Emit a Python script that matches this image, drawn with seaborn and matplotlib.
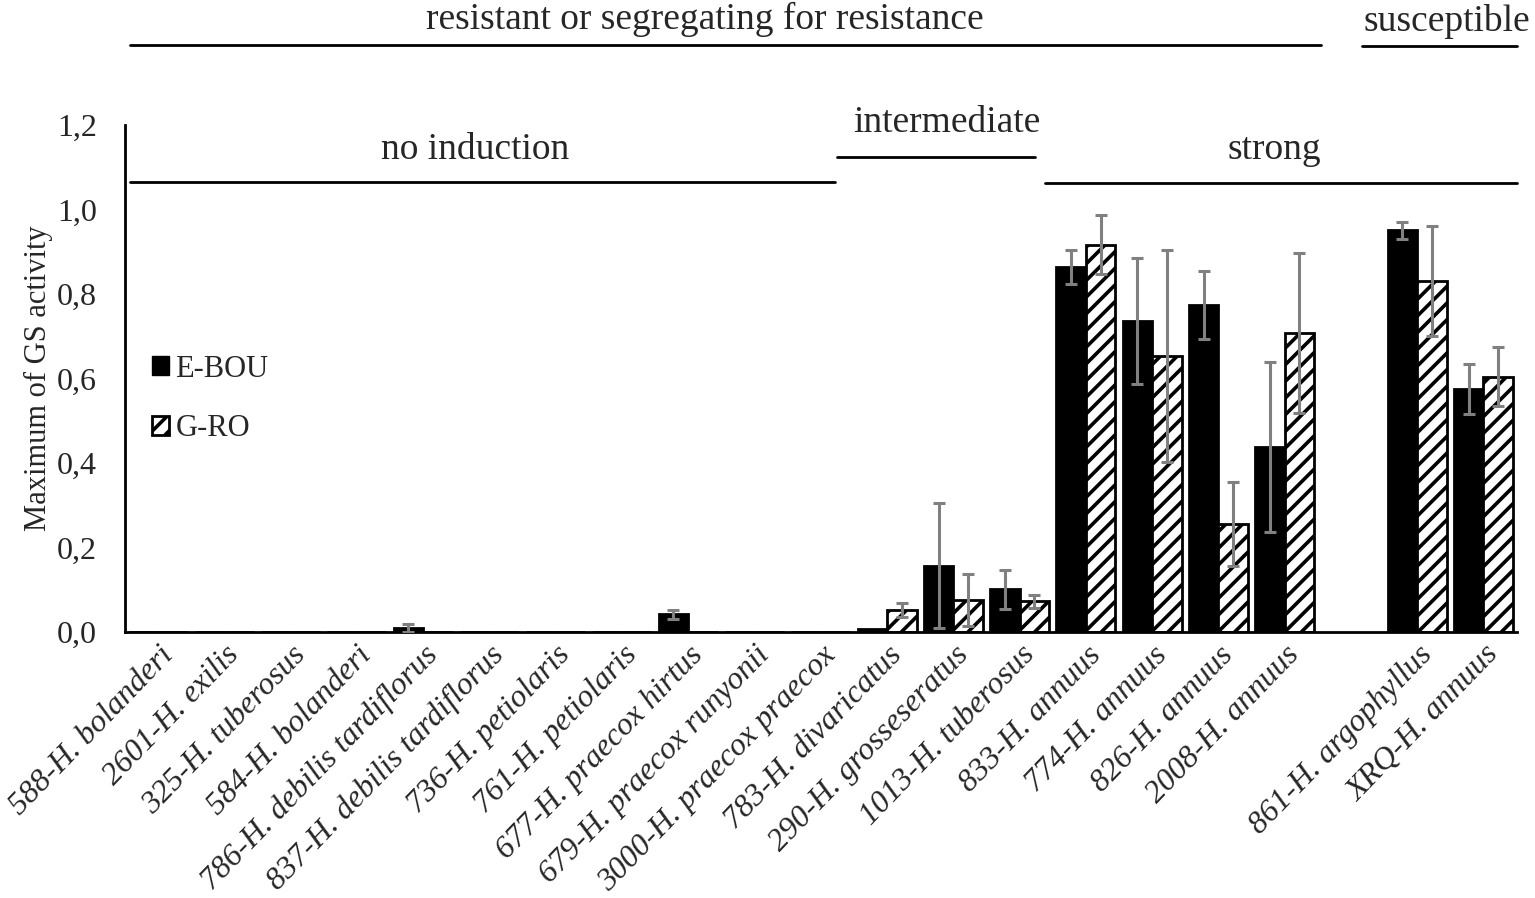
import numpy as np
import pandas as pd
import matplotlib
matplotlib.use("Agg")
import matplotlib.pyplot as plt
import seaborn as sns
from matplotlib.ticker import FuncFormatter
from matplotlib.patches import Patch

# ---- data ----
categories = ["588-H. bolanderi", "2601-H. exilis", "325-H. tuberosus", "584-H. bolanderi",
              "786-H. debilis tardiflorus", "837-H. debilis tardiflorus", "736-H. petiolaris",
              "761-H. petiolaris", "677-H. praecox hirtus", "679-H. praecox runyonii",
              "3000-H. praecox praecox", "783-H. divaricatus", "290-H. grosseseratus",
              "1013-H. tuberosus", "833-H. annuus", "774-H. annuus", "826-H. annuus",
              "2008-H. annuus", "861-H. argophyllus", "XRQ-H. annuus"]
ebou = [0, 0, 0, 0, 0.01, 0, 0, 0, 0.042, 0, 0,
        0.008, 0.157, 0.101, 0.864, 0.736, 0.774, 0.438, 0.951, 0.575]
ebou_err = [0, 0, 0, 0, 0.009, 0, 0, 0, 0.01, 0, 0,
            0, 0.148, 0.047, 0.04, 0.15, 0.08, 0.2, 0.02, 0.06]
gro = [0, 0, 0, 0, 0, 0, 0, 0, 0, 0, 0,
       0.052, 0.076, 0.073, 0.916, 0.653, 0.256, 0.708, 0.831, 0.604]
gro_err = [0, 0, 0, 0, 0, 0, 0, 0, 0, 0, 0,
           0.016, 0.061, 0.015, 0.07, 0.25, 0.1, 0.19, 0.13, 0.07]
series = ["E-BOU", "G-RO"]

# empty slot between the strong group and the susceptible lines
order = categories[:18] + [" "] + categories[18:]

df = pd.DataFrame({
    "line": categories * 2,
    "accession": [series[0]] * len(categories) + [series[1]] * len(categories),
    "value": ebou + gro,
    "err": ebou_err + gro_err,
})

sns.set_style("white")
plt.rcParams["font.family"] = ["Liberation Serif", "DejaVu Serif"]
plt.rcParams["hatch.linewidth"] = 2.6
plt.rcParams["hatch.color"] = "black"

fig = plt.figure(figsize=(15.35, 8.98), dpi=100)
ax = fig.add_axes([0.0814, 0.296, 0.9066, 0.565])

sns.barplot(data=df, x="line", y="value", hue="accession", order=order,
            hue_order=series, palette=["black", "white"], width=0.89, gap=0,
            errorbar=None, edgecolor="black", linewidth=2, ax=ax, legend=False)

# hatch the G-RO bars and add the error bars
lookup = df.set_index(["line", "accession"])
for cont, name in zip(ax.containers, series):
    for p in cont:
        xc = p.get_x() + p.get_width() / 2
        cat = order[int(round(xc))]
        if name == "G-RO":
            p.set_hatch("//")
        e = lookup.loc[(cat, name), "err"]
        if e > 0:
            ax.errorbar(xc, p.get_height(), yerr=e, fmt="none", ecolor="#808080",
                        elinewidth=2.2, capsize=4.6, capthick=2.2, zorder=5)

ax.set_ylim(0, 1.2)
ax.set_xlim(-0.5, len(order) - 0.5)
ax.set_yticks(np.arange(0, 1.21, 0.2))
ax.yaxis.set_major_formatter(FuncFormatter(lambda v, _: f"{v:.1f}".replace(".", ",")))
ax.tick_params(axis="y", labelsize=23, length=0, pad=20)
ax.tick_params(axis="x", length=0, pad=6)

ax.set_xticks(range(len(order)))
ax.set_xticklabels(order, rotation=46, ha="right", rotation_mode="anchor",
                   fontsize=23, fontstyle="italic")
ax.set_xlabel("")
ax.set_ylabel("Maximum of GS activity", fontsize=22, labelpad=3)

for s in ["top", "right"]:
    ax.spines[s].set_visible(False)
for s in ["left", "bottom"]:
    ax.spines[s].set_color("black")
    ax.spines[s].set_linewidth(2)

# legend
handles = [Patch(facecolor="black", edgecolor="black"),
           Patch(facecolor="white", edgecolor="black", hatch="//", linewidth=2)]
ax.legend(handles, series, loc="center left", bbox_to_anchor=(0.0, 0.46),
          frameon=False, fontsize=22, handlelength=0.55, handleheight=0.6,
          handletextpad=0.2, labelspacing=1.0)

# group annotations: (text, line start, line end, line y, text x, text y)
groups = [
    ("no induction", -0.42, 10.22, 1.065, 4.79, 1.14),
    ("intermediate", 10.25, 13.24, 1.124, 11.9, 1.205),
    ("strong", 13.38, 20.5, 1.063, 16.85, 1.14),
    ("resistant or segregating for resistance", -0.42, 17.55, 1.389, 8.25, 1.45),
    ("susceptible", 18.16, 20.5, 1.387, 19.44, 1.445),
]
for text, x0, x1, yl, xt, yt in groups:
    ax.plot([x0, x1], [yl, yl], color="black", lw=2, clip_on=False)
    ax.text(xt, yt, text, ha="center", va="center", fontsize=27, clip_on=False)

fig.savefig("out.png", dpi=100)
